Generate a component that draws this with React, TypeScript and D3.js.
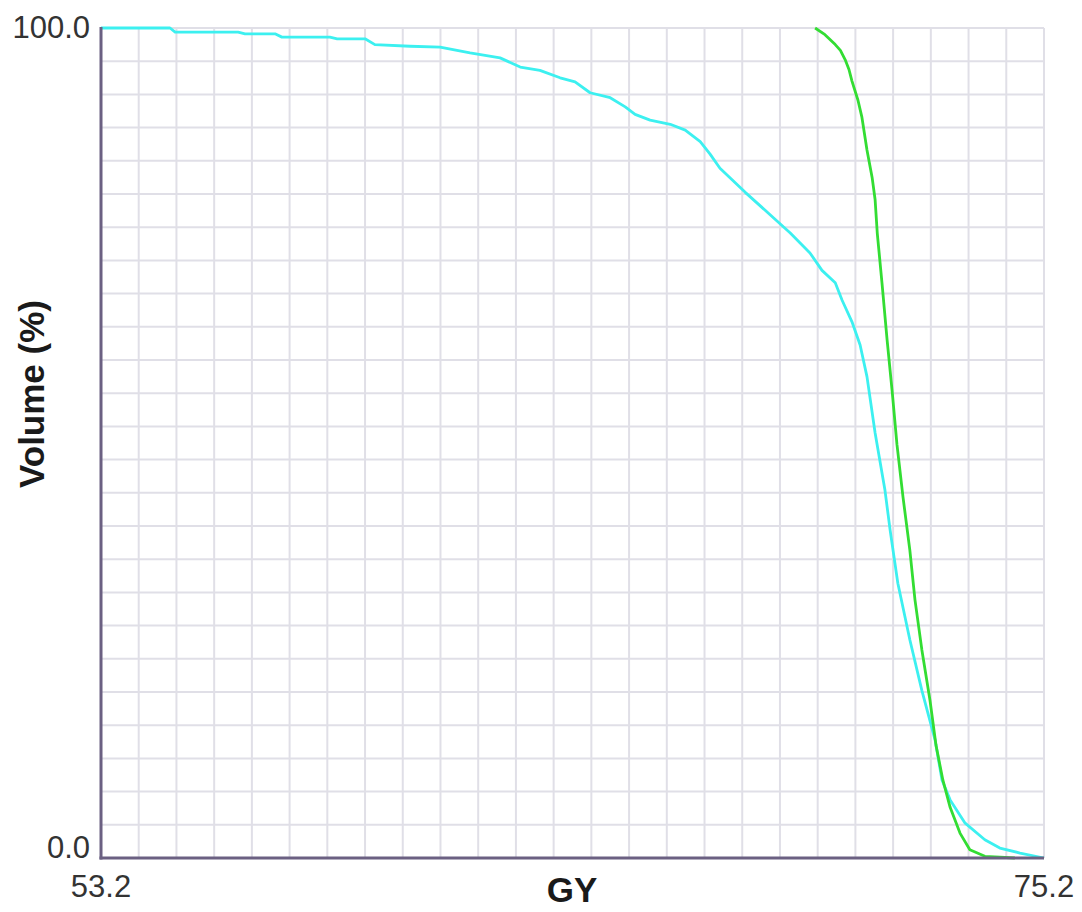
import React from "react";
import * as d3 from "d3";

const xTickLabels = ["53.2", "75.2"];
const yTickLabels = ["0.0", "100.0"];

const cyanDose = [53.2, 54.81, 54.93, 56.4, 56.56, 57.26, 57.42, 58.54, 58.71, 59.36, 59.59, 60.41, 61.11, 61.81, 62.51, 62.98, 63.44, 63.91, 64.26, 64.61, 65.08, 65.43, 65.66, 66.01, 66.48, 66.83, 67.18, 67.41, 67.64, 68.23, 68.81, 69.28, 69.74, 70.02, 70.33, 70.49, 70.72, 70.91, 71.07, 71.26, 71.49, 71.61, 71.79, 72.07, 72.35, 72.66, 72.82, 73.01, 73.36, 73.82, 74.17, 74.64, 75.2];
const cyanVolume = [100, 100, 99.5, 99.5, 99.3, 99.3, 98.9, 98.9, 98.7, 98.7, 98.0, 97.8, 97.7, 97.0, 96.4, 95.3, 94.9, 94.0, 93.5, 92.2, 91.6, 90.5, 89.6, 88.9, 88.4, 87.7, 86.3, 84.8, 83.1, 80.2, 77.5, 75.3, 72.9, 70.8, 69.3, 67.2, 64.6, 61.8, 58.0, 51.2, 44.3, 39.5, 33.1, 26.3, 20.2, 14.2, 9.4, 7.0, 4.2, 2.2, 1.2, 0.6, 0.0];

const greenDose = [69.86, 70.09, 70.33, 70.45, 70.56, 70.65, 70.72, 70.86, 70.95, 71.07, 71.19, 71.26, 71.31, 71.42, 71.54, 71.66, 71.77, 71.91, 72.07, 72.19, 72.35, 72.54, 72.68, 72.84, 73.01, 73.24, 73.47, 73.82, 74.52];
const greenVolume = [100, 99.2, 98.0, 97.3, 96.2, 95.0, 93.6, 91.3, 89.3, 85.3, 82.0, 79.3, 75.3, 69.3, 62.4, 56.1, 49.8, 43.5, 37.1, 31.1, 25.1, 19.0, 13.6, 9.4, 6.1, 3.0, 1.0, 0.2, 0.0];

const W = 1082;
const H = 912;
const left = 101;
const right = 1044;
const top = 28;
const bottom = 858;

export default function App() {
  const x = d3.scaleLinear().domain([53.2, 75.2]).range([left, right]);
  const y = d3.scaleLinear().domain([0, 100]).range([bottom, top]);
  const nDiv = 25;
  const xGrid = d3.range(nDiv + 1).map((i) => 53.2 + (i * 22) / nDiv);
  const yGrid = d3.range(nDiv + 1).map((i) => (i * 100) / nDiv);

  const line = d3
    .line<[number, number]>()
    .x((d) => x(d[0]))
    .y((d) => y(d[1]));

  const cyan: [number, number][] = cyanDose.map((d, i) => [d, cyanVolume[i]]);
  const green: [number, number][] = greenDose.map((d, i) => [d, greenVolume[i]]);

  const font = "'Liberation Sans', Arial, sans-serif";

  return (
    <div style={{ position: "absolute", left: 0, top: 0 }}>
      <svg width={W} height={H} style={{ display: "block", background: "#fff" }}>
        <g>
          {xGrid.map((v, i) => (
            <line key={"vx" + i} x1={x(v)} x2={x(v)} y1={top} y2={bottom} stroke="#e0dfe7" strokeWidth={2} />
          ))}
          {yGrid.map((v, i) => (
            <line key={"hy" + i} x1={left} x2={right} y1={y(v)} y2={y(v)} stroke="#e0dfe7" strokeWidth={2} />
          ))}
        </g>
        <path d={line(cyan) || ""} fill="none" stroke="#3cf0f0" strokeWidth={2.8} strokeLinejoin="round" />
        <path d={line(green) || ""} fill="none" stroke="#33dd33" strokeWidth={2.8} strokeLinejoin="round" />
        <line x1={left} x2={left} y1={top - 1} y2={bottom + 1.5} stroke="#6b6082" strokeWidth={3} />
        <line x1={left - 1.5} x2={right} y1={bottom} y2={bottom} stroke="#6b6082" strokeWidth={3} />
        <text x={90} y={y(100) + 10} textAnchor="end" fontFamily={font} fontSize={31} fill="#333">
          {yTickLabels[1]}
        </text>
        <text x={90} y={y(0)} textAnchor="end" fontFamily={font} fontSize={31} fill="#333">
          {yTickLabels[0]}
        </text>
        <text x={x(53.2)} y={897} textAnchor="middle" fontFamily={font} fontSize={31} fill="#333">
          {xTickLabels[0]}
        </text>
        <text x={x(75.2)} y={897} textAnchor="middle" fontFamily={font} fontSize={31} fill="#333">
          {xTickLabels[1]}
        </text>
        <text x={572} y={902} textAnchor="middle" fontFamily={font} fontSize={35} fontWeight="bold" fill="#1a1a1a">
          GY
        </text>
        <text
          transform="translate(44,394) rotate(-90)"
          textAnchor="middle"
          fontFamily={font}
          fontSize={35}
          fontWeight="bold"
          fill="#1a1a1a"
        >
          Volume (%)
        </text>
      </svg>
    </div>
  );
}
